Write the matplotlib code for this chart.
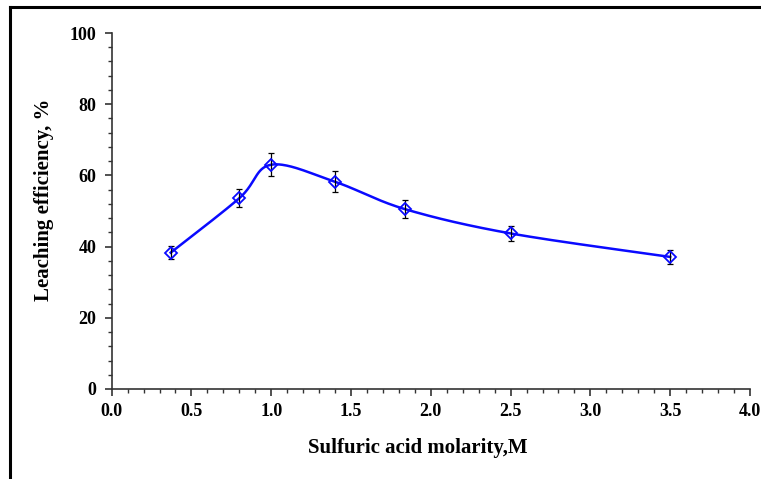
import numpy as np
import matplotlib
matplotlib.use("Agg")
import matplotlib.pyplot as plt
from matplotlib.lines import Line2D
from matplotlib.ticker import MultipleLocator

# Data
molarity = [0.37, 0.8, 1.0, 1.4, 1.84, 2.5, 3.5]
efficiency = [38.3, 53.6, 63.0, 58.2, 50.5, 43.7, 37.1]
error = [1.8, 2.6, 3.2, 2.9, 2.6, 2.1, 1.9]
x_ticks = [0.0, 0.5, 1.0, 1.5, 2.0, 2.5, 3.0, 3.5, 4.0]
y_ticks = [0, 20, 40, 60, 80, 100]


def smooth_curve(xs, ys, n=40):
    """Excel-like smoothed line (Catmull-Rom cubic Bezier through the data)."""
    P = np.column_stack([xs, ys]).astype(float)
    m = len(P)
    out = []
    for i in range(m - 1):
        p0 = P[i - 1] if i > 0 else P[i]
        p1 = P[i]
        p2 = P[i + 1]
        p3 = P[i + 2] if i + 2 < m else P[i + 1]
        c1 = p1 + (p2 - p0) / 6.0
        c2 = p2 - (p3 - p1) / 6.0
        t = np.linspace(0, 1, n)[:, None]
        seg = ((1 - t) ** 3) * p1 + 3 * ((1 - t) ** 2) * t * c1 + 3 * (1 - t) * t ** 2 * c2 + t ** 3 * p2
        out.append(seg if i == 0 else seg[1:])
    return np.vstack(out)


fig = plt.figure(figsize=(7.61, 4.79), dpi=100)
ax = fig.add_axes([0.1467, 0.1879, 0.8388, 0.7432])

font = {"family": ["Liberation Serif", "DejaVu Serif"], "weight": "bold"}

curve = smooth_curve(molarity, efficiency)
ax.plot(curve[:, 0], curve[:, 1], color="#0a0aff", lw=1.8, zorder=2)
ax.errorbar(molarity, efficiency, yerr=error, fmt="none", ecolor="black",
            elinewidth=0.9, capsize=2.5, capthick=0.9, zorder=3)
ax.plot(molarity, efficiency, linestyle="none", marker="D", markersize=6.5,
        markerfacecolor="none", markeredgecolor="#0a0aff", markeredgewidth=1.3, zorder=4)

ax.set_xlim(0, 4.0)
ax.set_ylim(0, 100)
ax.set_xticks(x_ticks)
ax.set_yticks(y_ticks)
ax.set_xticklabels([f"{v:.1f}" for v in x_ticks])
ax.set_yticklabels([str(v) for v in y_ticks])
ax.xaxis.set_minor_locator(MultipleLocator(0.1))
ax.yaxis.set_minor_locator(MultipleLocator(4))

for s in ["top", "right"]:
    ax.spines[s].set_visible(False)
for s in ["left", "bottom"]:
    ax.spines[s].set_color("#333333")
    ax.spines[s].set_linewidth(1.2)

ax.tick_params(axis="both", which="major", direction="out", length=5, width=1.2, color="#333333")
ax.tick_params(axis="x", which="major", pad=5)
ax.tick_params(axis="y", which="major", pad=6)
ax.tick_params(axis="both", which="minor", direction="out", length=3, width=1.0, color="#333333")
for lab in ax.get_xticklabels() + ax.get_yticklabels():
    lab.set_fontfamily(font["family"])
    lab.set_fontweight("bold")
    lab.set_fontsize(13)

ax.set_xlabel("Sulfuric acid molarity,M", fontsize=15, **font)
ax.set_ylabel("Leaching efficiency, %", fontsize=15, **font)
ax.xaxis.set_label_coords(0.48, -0.138)
ax.yaxis.set_label_coords(-0.09, 0.531)

# outer frame (top and left edges visible)
fig.add_artist(Line2D([9.5 / 761, 1.0], [1 - 6.5 / 479, 1 - 6.5 / 479], transform=fig.transFigure,
                      color="black", lw=2.2))
fig.add_artist(Line2D([9.5 / 761, 9.5 / 761], [0.0, 1 - 6.5 / 479], transform=fig.transFigure,
                      color="black", lw=2.2))

fig.savefig("out.png", dpi=100)
